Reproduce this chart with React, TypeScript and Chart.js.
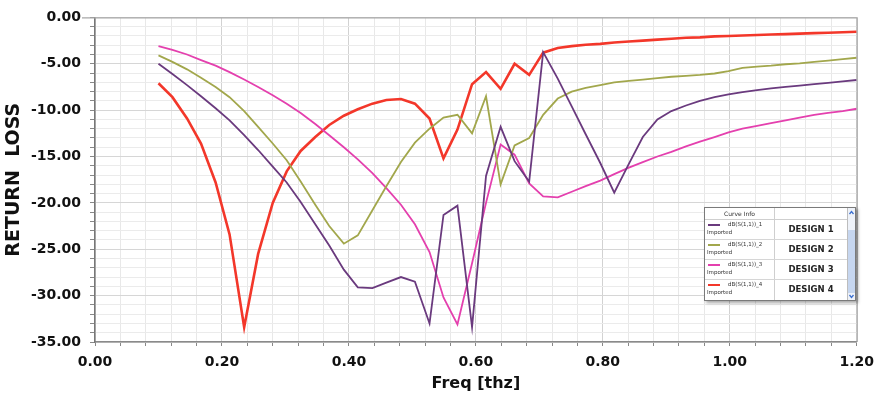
import React, { useEffect, useRef } from "react";
import { Chart, registerables } from "chart.js";

Chart.register(...registerables);

const freq = [0.100, 0.122, 0.145, 0.167, 0.190, 0.212, 0.235, 0.257, 0.280, 0.302,
  0.324, 0.347, 0.369, 0.392, 0.414, 0.437, 0.459, 0.482, 0.504, 0.527,
  0.549, 0.571, 0.594, 0.616, 0.639, 0.661, 0.684, 0.706, 0.729, 0.751,
  0.773, 0.796, 0.818, 0.841, 0.863, 0.886, 0.908, 0.931, 0.953, 0.976,
  0.998, 1.020, 1.043, 1.065, 1.088, 1.110, 1.133, 1.155, 1.178, 1.200];

const design1 = [-5.0, -6.1, -7.3, -8.5, -9.8, -11.1, -12.7, -14.3, -16.1, -17.8,
  -19.9, -22.3, -24.6, -27.2, -29.1, -29.2, -28.6, -28.0, -28.5, -33.0,
  -21.3, -20.3, -33.4, -17.1, -11.8, -15.5, -17.7, -3.75, -6.6, -9.6,
  -12.6, -15.7, -18.9, -15.8, -12.9, -11.0, -10.1, -9.5, -9.0, -8.6,
  -8.3, -8.05, -7.85, -7.65, -7.5, -7.35, -7.2, -7.05, -6.9, -6.75];

const design2 = [-4.1, -4.8, -5.6, -6.5, -7.5, -8.6, -10.1, -11.8, -13.6, -15.4,
  -17.7, -20.2, -22.5, -24.4, -23.5, -20.8, -18.2, -15.6, -13.5, -12.0,
  -10.8, -10.5, -12.5, -8.5, -18.0, -13.8, -13.0, -10.5, -8.75, -8.0,
  -7.6, -7.3, -7.0, -6.85, -6.7, -6.55, -6.4, -6.3, -6.2, -6.05,
  -5.8, -5.45, -5.3, -5.2, -5.05, -4.95, -4.8, -4.65, -4.5, -4.35];

const design3 = [-3.1, -3.5, -4.0, -4.6, -5.2, -5.9, -6.7, -7.5, -8.4, -9.3,
  -10.3, -11.5, -12.7, -14.0, -15.3, -16.8, -18.4, -20.2, -22.3, -25.3,
  -30.2, -33.1, -26.5, -20.0, -13.7, -14.8, -17.9, -19.3, -19.4, -18.8,
  -18.2, -17.6, -16.9, -16.2, -15.6, -15.0, -14.5, -13.9, -13.4, -12.9,
  -12.4, -12.0, -11.7, -11.4, -11.1, -10.8, -10.5, -10.3, -10.1, -9.85];

const design4 = [-7.1, -8.6, -10.9, -13.6, -17.8, -23.4, -33.4, -25.5, -20.0, -16.6,
  -14.4, -12.9, -11.6, -10.6, -9.9, -9.3, -8.9, -8.8, -9.3, -10.9,
  -15.2, -12.1, -7.2, -5.9, -7.7, -5.0, -6.2, -3.8, -3.3, -3.1,
  -2.95, -2.85, -2.7, -2.6, -2.5, -2.4, -2.3, -2.2, -2.15, -2.05,
  -2.0, -1.95, -1.9, -1.85, -1.8, -1.75, -1.7, -1.65, -1.6, -1.55];

const seriesNames = ["DESIGN 1", "DESIGN 2", "DESIGN 3", "DESIGN 4"];
const curveNames = ["dB(S(1,1))_1", "dB(S(1,1))_2", "dB(S(1,1))_3", "dB(S(1,1))_4"];
const colors = ["#6a3a7e", "#a2a74c", "#e440ae", "#f3372a"];
const widths = [1.8, 1.8, 1.8, 2.6];
const xTitle = "Freq [thz]";
const yTitle = "RETURN  LOSS";

const FONT = "'DejaVu Sans', sans-serif";

const framePlugin = {
  id: "frame",
  afterDraw(chart: any) {
    const { ctx, chartArea: a } = chart;
    ctx.save();
    ctx.strokeStyle = "#a8a8a8";
    ctx.lineWidth = 1.2;
    ctx.beginPath();
    ctx.moveTo(82, a.top + 0.5);
    ctx.lineTo(a.right + 0.5, a.top + 0.5);
    ctx.lineTo(a.right + 0.5, a.bottom);
    ctx.stroke();
    ctx.restore();
  },
};

function isMult(v: number, step: number) {
  const r = v / step;
  return Math.abs(r - Math.round(r)) < 1e-6;
}

export default function App() {
  const ref = useRef<HTMLCanvasElement | null>(null);

  useEffect(() => {
    const all = [design1, design2, design3, design4];
    const chart = new Chart(ref.current as HTMLCanvasElement, {
      type: "line",
      data: {
        datasets: all.map((d, i) => ({
          label: seriesNames[i],
          data: freq.map((f, k) => ({ x: f, y: d[k] })),
          borderColor: colors[i],
          backgroundColor: colors[i],
          borderWidth: widths[i],
          pointRadius: 0,
          tension: 0,
          fill: false,
        })),
      },
      options: {
        animation: false,
        responsive: false,
        maintainAspectRatio: false,
        layout: { padding: { left: 0, top: 15, right: 24, bottom: 0 } },
        plugins: { legend: { display: false }, tooltip: { enabled: false } },
        scales: {
          x: {
            type: "linear",
            min: 0,
            max: 1.2,
            afterFit: (s: any) => { s.height = 56; },
            ticks: {
              stepSize: 0.04,
              autoSkip: false,
              maxRotation: 0,
              padding: 8,
              color: "#111",
              font: { family: FONT, size: 14, weight: "bold" },
              callback: (v: any) => (isMult(Number(v), 0.2) ? Number(v).toFixed(2) : ""),
            },
            grid: {
              color: (c: any) => (isMult(c.tick.value, 0.2) ? "#d2d2d2" : "#e8e8e8"),
              tickColor: "#888",
              tickLength: 4,
              lineWidth: 1,
            },
            border: { color: "#8a8a8a", width: 1.5 },
            title: {
              display: true,
              text: xTitle,
              color: "#111",
              font: { family: FONT, size: 16, weight: "bold" },
              padding: { top: 0, bottom: 5 },
            },
          },
          y: {
            type: "linear",
            min: -35,
            max: 0,
            afterFit: (s: any) => { s.width = 95; },
            ticks: {
              stepSize: 1,
              autoSkip: false,
              padding: 9,
              color: "#111",
              font: { family: FONT, size: 14, weight: "bold" },
              callback: (v: any) => (isMult(Number(v), 5) ? Number(v).toFixed(2) : ""),
            },
            grid: {
              color: (c: any) => (isMult(c.tick.value, 5) ? "#d6d6d6" : "#ebebeb"),
              tickColor: "#888",
              tickLength: 5,
              lineWidth: 1,
            },
            border: { color: "#777", width: 1.5 },
            title: {
              display: true,
              text: yTitle,
              color: "#111",
              font: { family: FONT, size: 19, weight: "bold" },
              padding: { top: 3, bottom: 0 },
            },
          },
        },
      },
      plugins: [framePlugin],
    } as any);
    return () => chart.destroy();
  }, []);

  const tiny = { fontFamily: FONT, fontSize: 5.5, color: "#333", position: "absolute" as const, whiteSpace: "nowrap" as const, lineHeight: "7px" };

  return (
    <div style={{ position: "fixed", left: 0, top: 0, width: 882, height: 398, background: "#fff" }}>
      <canvas ref={ref} width={882} height={398} style={{ width: 882, height: 398, display: "block" }} />
      <div
        style={{
          position: "absolute", left: 704, top: 207, width: 150, height: 92,
          background: "#fff", border: "1px solid #7a7a7a",
          boxShadow: "2px 2px 3px rgba(0,0,0,0.35)", overflow: "hidden",
        }}
      >
        {/* header */}
        <div style={{ ...tiny, left: 0, top: 2, width: 69, textAlign: "center", fontSize: 6 }}>Curve Info</div>
        <div style={{ position: "absolute", left: 0, top: 11, width: 142, height: 1, background: "#cfcfcf" }} />
        <div style={{ position: "absolute", left: 69, top: 0, width: 1, height: 92, background: "#cfcfcf" }} />
        <div style={{ position: "absolute", left: 142, top: 0, width: 1, height: 92, background: "#bdbdbd" }} />
        {seriesNames.map((n, i) => {
          const top = 12 + i * 20;
          return (
            <React.Fragment key={n}>
              <div style={{ position: "absolute", left: 3, top: top + 4, width: 12, height: 1.5, background: colors[i] }} />
              <div style={{ ...tiny, left: 23, top: top + 1 }}>{curveNames[i]}</div>
              <div style={{ ...tiny, left: 2, top: top + 9 }}>Imported</div>
              <div
                style={{
                  position: "absolute", left: 70, width: 72, top: top + 4, textAlign: "center",
                  fontFamily: FONT, fontWeight: "bold", fontSize: 8.5, color: "#222", lineHeight: "10px",
                  whiteSpace: "nowrap",
                }}
              >
                {n}
              </div>
              {i < 3 && <div style={{ position: "absolute", left: 0, top: top + 19, width: 142, height: 1, background: "#d6d6d6" }} />}
            </React.Fragment>
          );
        })}
        {/* scrollbar */}
        <div style={{ position: "absolute", left: 143, top: 0, width: 7, height: 92, background: "#eef2f9" }} />
        <div style={{ position: "absolute", left: 143, top: 22, width: 7, height: 63, background: "#c6d6ef" }} />
        <svg style={{ position: "absolute", left: 143, top: 0 }} width={7} height={92}>
          <polyline points="1.5,6 3.5,3.5 5.5,6" fill="none" stroke="#3a6fd0" strokeWidth={1.3} />
          <polyline points="1.5,87 3.5,89.5 5.5,87" fill="none" stroke="#3a6fd0" strokeWidth={1.3} />
        </svg>
      </div>
    </div>
  );
}
